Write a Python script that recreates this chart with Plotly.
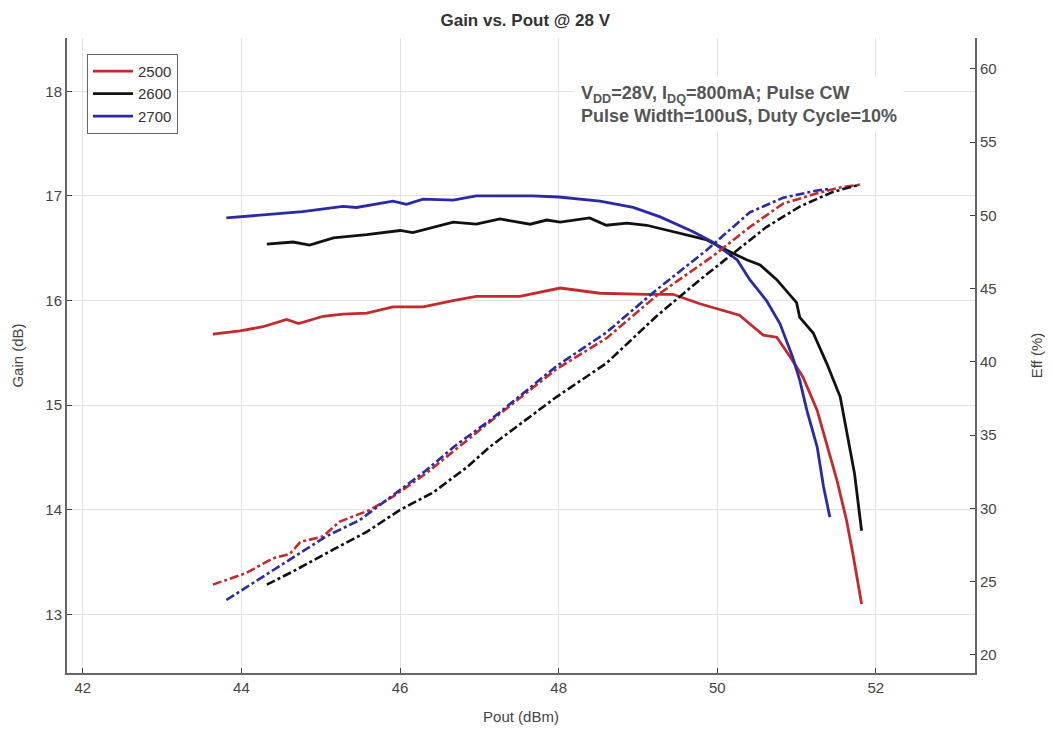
import plotly.graph_objects as go

# ---- data ----
freqs = ["2500", "2600", "2700"]

pout_gain_2500 = [43.64, 43.98, 44.27, 44.57, 44.72, 45.03, 45.28, 45.58, 45.91, 46.29, 46.67, 46.96, 47.17, 47.51, 48.02, 48.52, 49.11, 49.44, 49.78, 50.28, 50.58, 50.75, 50.92, 51.08, 51.26, 51.38, 51.51, 51.63, 51.71, 51.82]
gain_2500 = [15.68, 15.71, 15.75, 15.82, 15.78, 15.85, 15.87, 15.88, 15.94, 15.94, 16.00, 16.04, 16.04, 16.04, 16.12, 16.07, 16.06, 16.06, 15.97, 15.86, 15.67, 15.65, 15.46, 15.27, 14.95, 14.64, 14.28, 13.90, 13.58, 13.10]

pout_gain_2600 = [44.32, 44.65, 44.86, 45.16, 45.58, 46.00, 46.16, 46.41, 46.67, 46.96, 47.26, 47.64, 47.85, 48.02, 48.39, 48.60, 48.86, 49.11, 49.44, 49.87, 50.12, 50.37, 50.54, 50.75, 51.00, 51.04, 51.21, 51.38, 51.55, 51.63, 51.73, 51.82]
gain_2600 = [16.54, 16.56, 16.53, 16.60, 16.63, 16.67, 16.65, 16.70, 16.75, 16.73, 16.78, 16.73, 16.77, 16.75, 16.79, 16.72, 16.74, 16.72, 16.66, 16.58, 16.48, 16.39, 16.34, 16.20, 15.98, 15.84, 15.69, 15.40, 15.08, 14.76, 14.35, 13.80]

pout_gain_2700 = [43.81, 44.77, 45.28, 45.45, 45.91, 46.08, 46.29, 46.67, 46.96, 47.67, 48.00, 48.52, 48.94, 49.28, 49.69, 49.94, 50.25, 50.41, 50.62, 50.79, 50.95, 51.04, 51.13, 51.26, 51.34, 51.42]
gain_2700 = [16.79, 16.85, 16.90, 16.89, 16.95, 16.92, 16.97, 16.96, 17.00, 17.00, 16.99, 16.95, 16.89, 16.80, 16.66, 16.56, 16.39, 16.20, 16.00, 15.78, 15.46, 15.24, 14.95, 14.60, 14.22, 13.93]

pout_eff_2500 = [43.64, 44.06, 44.40, 44.61, 44.74, 45.03, 45.24, 45.62, 45.91, 46.33, 47.13, 47.97, 48.60, 49.23, 49.94, 50.41, 50.83, 51.26, 51.55, 51.82]
eff_2500 = [24.8, 25.6, 26.6, 26.9, 27.7, 28.1, 29.1, 29.9, 30.8, 32.4, 35.9, 39.5, 41.6, 44.5, 47.2, 49.2, 50.8, 51.5, 51.9, 52.1]

pout_eff_2600 = [44.32, 44.65, 45.16, 45.58, 46.00, 46.42, 46.84, 47.13, 47.97, 48.60, 49.23, 49.78, 50.20, 50.62, 51.04, 51.46, 51.80]
eff_2600 = [24.8, 25.7, 27.2, 28.4, 29.9, 31.1, 32.8, 34.2, 37.6, 39.9, 43.1, 45.6, 47.4, 49.2, 50.6, 51.6, 52.1]

pout_eff_2700 = [43.81, 44.23, 44.65, 45.07, 45.49, 45.91, 46.33, 46.70, 47.13, 47.97, 48.60, 49.23, 49.86, 50.41, 50.83, 51.26, 51.42]
eff_2700 = [23.75, 25.2, 26.7, 28.1, 29.2, 30.9, 32.6, 34.3, 36.0, 39.7, 42.0, 44.9, 47.6, 50.2, 51.2, 51.7, 51.8]

x_ticks = [42, 44, 46, 48, 50, 52]
gain_ticks = [13, 14, 15, 16, 17, 18]
eff_ticks = [20, 25, 30, 35, 40, 45, 50, 55, 60]

colors = {"2500": "#c42a2c", "2600": "#111111", "2700": "#2a2aa8"}

gain_x = {"2500": pout_gain_2500, "2600": pout_gain_2600, "2700": pout_gain_2700}
gain_y = {"2500": gain_2500, "2600": gain_2600, "2700": gain_2700}
eff_x = {"2500": pout_eff_2500, "2600": pout_eff_2600, "2700": pout_eff_2700}
eff_y = {"2500": eff_2500, "2600": eff_2600, "2700": eff_2700}

fig = go.Figure()
for f in freqs:
    fig.add_trace(go.Scatter(x=eff_x[f], y=eff_y[f], mode="lines", yaxis="y2",
                             line=dict(color=colors[f], width=2.6, dash="dashdot"),
                             showlegend=False, name=f + " Eff"))
for f in freqs:
    fig.add_trace(go.Scatter(x=gain_x[f], y=gain_y[f], mode="lines", name=f,
                             line=dict(color=colors[f], width=2.8)))

FONT = "Liberation Sans, Arial, sans-serif"
tick_font = dict(family=FONT, size=15, color="#444444")
title_font = dict(family=FONT, size=15, color="#444444")

# page body has an 8px margin, so the figure is sized to fit the 1053x731 window
fig.update_layout(
    width=1045, height=723,
    margin=dict(l=59, r=78, t=30, b=58),
    paper_bgcolor="white", plot_bgcolor="white",
    title=dict(text="<b>Gain vs. Pout @ 28 V</b>", x=0.495, xanchor="center", y=0.992, yanchor="top",
               font=dict(family=FONT, size=17, color="#333333")),
    xaxis=dict(range=[41.8, 53.25], tickvals=x_ticks, ticks="inside", ticklen=5,
               showgrid=True, gridcolor="#e3e3e3", gridwidth=1, automargin=False,
               showline=True, linecolor="#666666", linewidth=2, zeroline=False,
               tickfont=tick_font,
               title=dict(text="Pout (dBm)", font=title_font, standoff=16)),
    yaxis=dict(range=[12.44, 18.51], tickvals=gain_ticks, ticks="inside", ticklen=5,
               showgrid=True, gridcolor="#e3e3e3", gridwidth=1, automargin=False,
               showline=True, linecolor="#666666", linewidth=2, zeroline=False,
               tickfont=tick_font,
               title=dict(text="Gain (dB)", font=title_font, standoff=18)),
    yaxis2=dict(range=[18.77, 62.1], tickvals=eff_ticks, ticks="inside", ticklen=5,
                overlaying="y", side="right", showgrid=False, automargin=False,
                showline=True, linecolor="#666666", linewidth=2, zeroline=False,
                tickfont=tick_font,
                title=dict(text="Eff (%)", font=title_font, standoff=36)),
    legend=dict(x=0.022, y=0.975, xanchor="left", yanchor="top",
                bgcolor="white", bordercolor="#666666", borderwidth=1,
                font=dict(family=FONT, size=15, color="#333333"),
                tracegroupgap=0, itemwidth=40),
    annotations=[dict(
        text="V<sub>DD</sub>=28V, I<sub>DQ</sub>=800mA; Pulse CW<br>Pulse Width=100uS, Duty Cycle=10%",
        xref="paper", yref="paper", x=0.558, y=0.94, xanchor="left", yanchor="top",
        align="left", showarrow=False, bgcolor="white", borderpad=6,
        font=dict(family=FONT, size=18, color="#555555", weight="bold"))],
)

fig.write_html("out.html")
